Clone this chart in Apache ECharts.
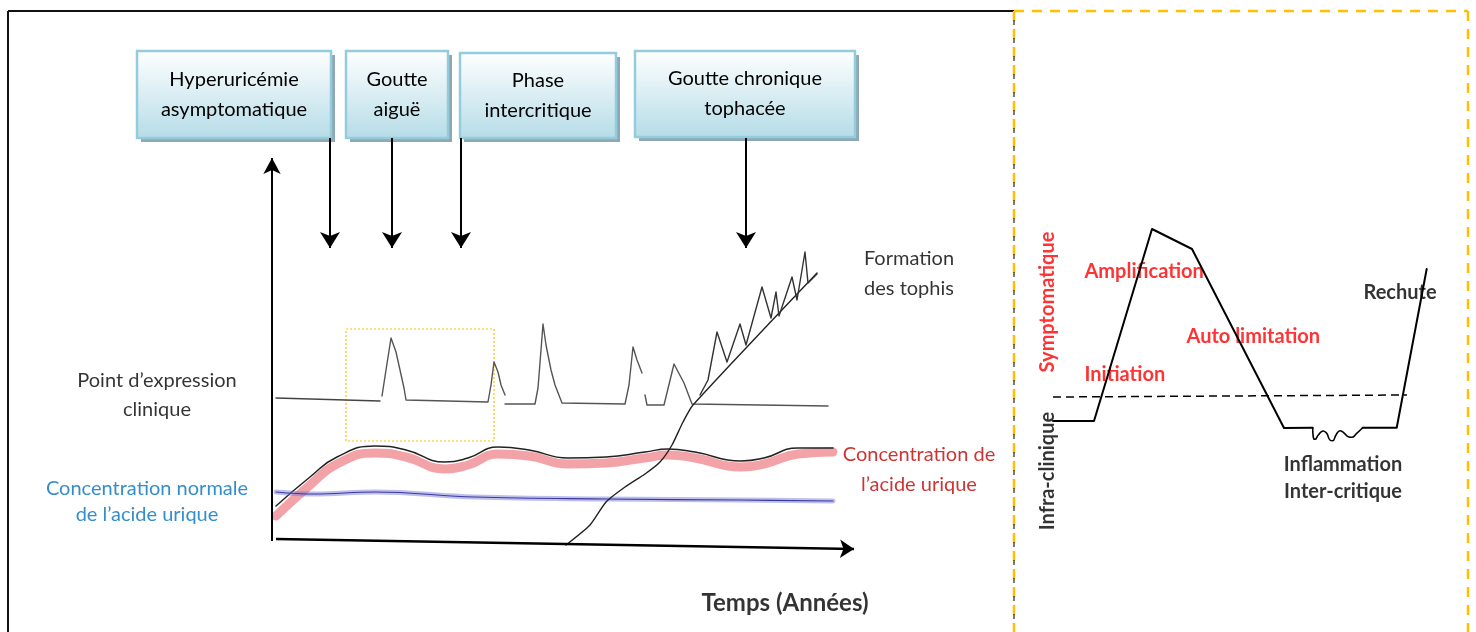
<!DOCTYPE html>
<html>
<head>
<meta charset="utf-8">
<script src="https://cdn.jsdelivr.net/npm/echarts@6/dist/echarts.min.js"></script>
<style>
  html, body { margin: 0; padding: 0; background: #fff; }
  #chart { width: 1476px; height: 632px; }
</style>
</head>
<body>
<div id="chart"></div>
<script>
// ---- left panel : evolution of gout over time (x = temps, y = niveau) ----
var phaseNames = ["Hyperuricémie\nasymptomatique", "Goutte\naiguë", "Phase\nintercritique", "Goutte chronique\ntophacée"];
var phaseBoxes = [[-13.6, 50, 5.8, 41.3], [7.3, 50, 17.5, 41.3], [18.7, 49.8, 34.3, 41.3], [36.2, 50, 58.2, 41.4]];
var phaseArrowsX = [5.7, 11.9, 18.8, 47.3];

// clinical expression trace (gaps where the scan is broken)
var exprA = [[0.3, 15.3], [10.7, 15.0]];
var exprB = [[10.9, 15.5], [11.3, 18.1], [11.8, 21.3], [12.3, 19.9], [12.7, 18.1], [13.1, 16.3], [13.3, 15.1],
  [21.5, 14.9], [21.8, 16.6], [22.1, 18.9], [22.5, 17.9], [22.8, 16.6], [23.2, 15.6]];
var exprC = [[23.2, 14.7], [26.2, 14.7], [26.5, 16.3], [26.8, 20.1], [27.0, 22.7], [27.3, 20.6], [27.8, 18.1],
  [28.2, 16.6], [28.9, 14.8], [35.2, 14.7], [35.6, 16.6], [36.0, 20.4], [36.4, 19.1], [36.9, 17.8]];
var exprD = [[37.2, 15.6], [37.4, 14.6], [39.1, 14.6], [40.1, 18.7], [41.1, 16.8], [41.9, 14.7], [55.5, 14.5]];

// tophi formation
var tophiLine = [[29.3, 0.6], [31.7, 2.6], [33.3, 4.9], [35.2, 6.4], [37.2, 7.7], [38.7, 8.9], [39.9, 10.6],
  [41.0, 12.9], [42.0, 14.6], [54.4, 27.8]];
var tophiPeaks = [[42.7, 15.6], [43.5, 17.1], [44.4, 21.9], [45.4, 18.9], [46.7, 22.7], [47.3, 20.6], [48.9, 26.4],
  [49.8, 23.3], [50.3, 25.9], [50.6, 23.5], [51.9, 27.4], [52.4, 25.1], [53.2, 29.9], [53.5, 26.8], [54.4, 27.7]];

// uric acid concentration (black trace + red band) and normal concentration (blue)
var uricLine = [[0.3, 4.5], [3.7, 7.4], [6.4, 9.4], [10.2, 10.5], [13.3, 10.1], [17.2, 8.9], [19.5, 9.3], [22.5, 10.4],
  [25.6, 10.1], [29.5, 9.3], [33.3, 9.4], [37.2, 9.9], [39.5, 10.2], [42.2, 9.9], [46.8, 9.0], [49.1, 9.3],
  [52.5, 10.3], [56.0, 10.3]];
var uricBand = [[0.3, 3.5], [3.7, 6.6], [6.4, 8.7], [10.2, 9.8], [13.3, 9.4], [17.2, 8.2], [19.5, 8.6], [22.5, 9.7],
  [25.6, 9.5], [29.5, 8.7], [33.3, 8.8], [37.2, 9.3], [39.5, 9.6], [42.2, 9.3], [46.8, 8.4], [49.1, 8.7],
  [52.5, 9.7], [56.0, 9.9]];
var normalLine = [[0.3, 5.9], [4.1, 5.7], [10.2, 5.9], [20.2, 5.4], [33.3, 5.2], [46.8, 5.1], [56.0, 5.0]];

// ---- right panel : one inflammatory attack ----
var attackLine = [[0, 0], [4.1, 0], [9.9, 19.2], [13.9, 17.2], [23.1, -0.7], [25.97, -0.67]];
var squiggle = [[25.97, -0.67], [26.03, -1.63], [26.2, -1.83], [26.53, -1.4], [27.03, -1.0], [27.37, -1.23],
  [27.7, -1.9], [27.97, -1.97], [28.3, -1.4], [28.7, -0.97], [29.03, -1.13], [29.53, -1.57], [29.87, -1.63],
  [30.37, -1.23], [30.97, -0.67]];
var relapseLine = [[30.97, -0.67], [34.37, -0.67], [37.37, 15.2]];
var thresholdLine = [[0, 2.4], [35.4, 2.6]];

var FONT = "Lato";

function trace(data, color, width, grid, smooth) {
  return {
    type: "line", data: data, xAxisIndex: grid, yAxisIndex: grid,
    symbol: "none", smooth: smooth || false, silent: true,
    lineStyle: { color: color, width: width, cap: "round", join: "round" }
  };
}

function note(grid, at, text, opts) {
  var lbl = Object.assign({
    show: true, formatter: text, position: "inside", align: "center", verticalAlign: "middle",
    fontFamily: FONT, fontSize: 20, color: "#000", lineHeight: 30
  }, opts || {});
  return {
    type: "scatter", xAxisIndex: grid, yAxisIndex: grid, silent: true,
    symbolSize: 1, itemStyle: { color: "rgba(0,0,0,0)" },
    data: [at], label: lbl
  };
}

function arrow(from, to, size, width) {
  return [{ coord: from, symbol: "none" }, { coord: to, symbol: "arrow", symbolSize: size,
    lineStyle: { width: width } }];
}

var boxes = phaseBoxes.map(function (b, i) {
  return [{ coord: [b[0], b[1]], name: phaseNames[i] }, { coord: [b[2], b[3]] }];
});
var boxShadows = phaseBoxes.map(function (b) {
  return [{ coord: [b[0] + 0.4, b[1] - 0.4] }, { coord: [b[2] + 0.4, b[3] - 0.4] }];
});

var arrows = phaseArrowsX.map(function (x) { return arrow([x, 41.3], [x, 30.3], [15, 16], 2); });
arrows.push(arrow([-0.1, 1.0], [-0.1, 39.3], [13, 16], 2));
arrows.push(arrow([0.3, 1.2], [58.1, 0.2], [14, 14], 2.5));

var redLabel = { position: "right", distance: 0, align: "left", fontWeight: "bold", color: "#ff0000" };

var option = {
  backgroundColor: "#fff",
  animation: false,
  grid: [
    { left: 3, top: 1, width: 1010, height: 630 },
    { left: 1016, top: 11, width: 450, height: 620 }
  ],
  xAxis: [
    { gridIndex: 0, type: "value", min: -27, max: 74, show: false },
    { gridIndex: 1, type: "value", min: -3.7, max: 41.3, show: false }
  ],
  yAxis: [
    { gridIndex: 0, type: "value", min: -8, max: 55, show: false },
    { gridIndex: 1, type: "value", min: -21, max: 41, show: false }
  ],
  graphic: [
    // frame of the left panel
    { type: "line", shape: { x1: 8, y1: 11, x2: 1014, y2: 11 }, style: { stroke: "#111", lineWidth: 2 } },
    { type: "line", shape: { x1: 8, y1: 11, x2: 8, y2: 632 }, style: { stroke: "#111", lineWidth: 2 } },
    // dashed frame of the right panel
    { type: "line", shape: { x1: 1014, y1: 11, x2: 1468, y2: 11 }, style: { stroke: "#ffc000", lineWidth: 2.5, lineDash: [10, 8] } },
    { type: "line", shape: { x1: 1468, y1: 11, x2: 1468, y2: 632 }, style: { stroke: "#ffc000", lineWidth: 2.5, lineDash: [10, 8] } },
    { type: "line", shape: { x1: 1014, y1: 11, x2: 1014, y2: 632 }, style: { stroke: "#ffc000", lineWidth: 2.5, lineDash: [10, 8] } },
    { type: "line", shape: { x1: 1014, y1: 20, x2: 1014, y2: 632 }, style: { stroke: "#222", lineWidth: 1.2, lineDash: [5, 13] } }
  ],
  series: [
    // box shadows
    {
      type: "line", xAxisIndex: 0, yAxisIndex: 0, data: [], silent: true,
      markArea: { silent: true, itemStyle: { color: "#8fa9b4", borderWidth: 0 }, data: boxShadows }
    },
    // phase boxes + arrows
    {
      type: "line", xAxisIndex: 0, yAxisIndex: 0, data: [], silent: true,
      markArea: {
        silent: true,
        itemStyle: {
          color: new echarts.graphic.LinearGradient(0, 0, 0, 1, [
            { offset: 0, color: "#ffffff" }, { offset: 1, color: "#b5dce7" }]),
          borderColor: "#93cddd", borderWidth: 2.5
        },
        label: {
          show: true, position: "inside", fontFamily: FONT, fontSize: 20, color: "#000", lineHeight: 30
        },
        data: boxes
      },
      markLine: {
        silent: true, symbol: ["none", "arrow"], label: { show: false },
        lineStyle: { color: "#000", type: "solid", width: 2 },
        data: arrows
      }
    },
    // dotted highlight around first attack
    {
      type: "line", xAxisIndex: 0, yAxisIndex: 0, data: [], silent: true,
      markArea: {
        silent: true,
        itemStyle: { color: "rgba(0,0,0,0)", borderColor: "#ffc000", borderWidth: 1.2, borderType: [2, 2] },
        data: [[{ coord: [7.3, 22.2] }, { coord: [22.1, 11.0] }]]
      }
    },
    trace(uricBand, "rgba(232,70,82,0.5)", 9, 0, 0.5),
    trace(uricLine, "#222", 1.5, 0, 0.5),
    trace(normalLine, "rgba(110,110,215,0.45)", 5, 0, 0.4),
    trace(normalLine, "#3b3b9c", 1.2, 0, 0.4),
    trace(exprA, "#444", 1.4, 0),
    trace(exprB, "#555", 1.4, 0),
    trace(exprC, "#555", 1.4, 0),
    trace(exprD, "#555", 1.4, 0),
    trace(tophiLine, "#222", 1.4, 0, 0.2),
    trace(tophiPeaks, "#333", 1.4, 0),
    note(0, [-11.6, 15.6], "Point d’expression\nclinique", { lineHeight: 29 }),
    note(0, [-12.6, 4.9], "Concentration normale\nde l’acide urique", { color: "#0070c0", lineHeight: 26 }),
    note(0, [63.6, 27.7], "Formation\ndes tophis"),
    note(0, [64.6, 8.1], "Concentration de\nl’acide urique", { color: "#c00000" }),
    note(0, [51.2, -5.2], "Temps (Années)", { fontWeight: "bold", fontSize: 24 }),

    // right panel
    {
      type: "line", data: thresholdLine, xAxisIndex: 1, yAxisIndex: 1, symbol: "none", silent: true,
      lineStyle: { color: "#000", width: 1.5, type: [8, 5] }
    },
    trace(attackLine, "#000", 2, 1),
    trace(squiggle, "#000", 1.6, 1, 0.5),
    trace(relapseLine, "#000", 2, 1),
    note(1, [3.1, 14.9], "Amplification", redLabel),
    note(1, [13.3, 8.4], "Auto limitation", redLabel),
    note(1, [3.1, 4.6], "Initiation", redLabel),
    note(1, [31.0, 12.8], "Rechute", { position: "right", distance: 0, align: "left", fontWeight: "bold" }),
    note(1, [29.0, -4.4], "Inflammation", { fontWeight: "bold" }),
    note(1, [29.0, -7.1], "Inter-critique", { fontWeight: "bold" }),
    note(1, [-0.5, 11.9], "Symptomatique", { fontWeight: "bold", color: "#ff0000", rotate: 90 }),
    note(1, [-0.5, -5.0], "Infra-clinique", { fontWeight: "bold", rotate: 90 })
  ]
};

var chart = echarts.init(document.getElementById("chart"));
chart.setOption(option);
</script>
</body>
</html>
